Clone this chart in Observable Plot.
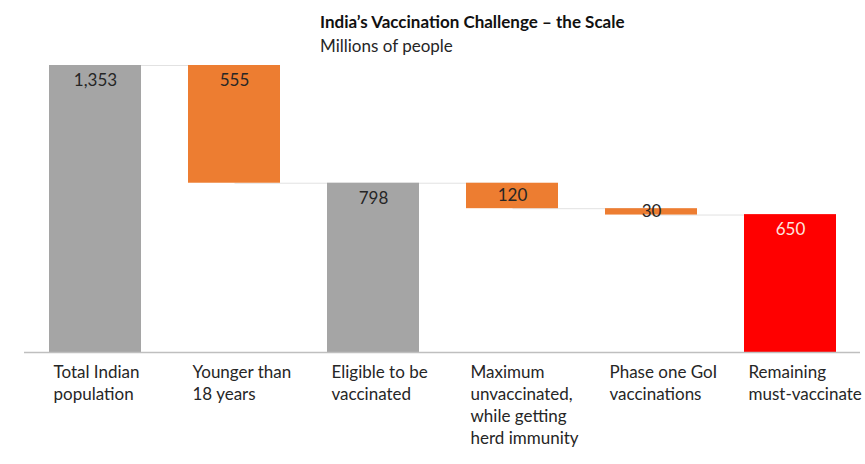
<!DOCTYPE html>
<html><head><meta charset="utf-8">
<script src="https://cdn.jsdelivr.net/npm/d3@7"></script>
<script src="https://cdn.jsdelivr.net/npm/@observablehq/plot@0.6"></script>
<style>
body{margin:0;background:#fff;font-family:Lato,"Open Sans",sans-serif;}
#wrap{position:relative;width:865px;height:464px;overflow:hidden}
#head{position:absolute;left:320px;top:10px;color:#111;}
#t{font-weight:bold;font-size:17px;line-height:24px}
#s{font-size:17px;line-height:24px;color:#262626}
#chart{position:absolute;left:0;top:58px}
</style></head><body>
<div id="wrap"><div id="head"><div id="t">India’s Vaccination Challenge – the Scale</div><div id="s">Millions of people</div></div><div id="chart"></div></div>
<script>
const categories = ["total", "young", "eligible", "herd", "phase1", "remaining"];
const tickLabels = ["Total Indian\npopulation", "Younger than\n18 years", "Eligible to be\nvaccinated", "Maximum\nunvaccinated,\nwhile getting\nherd immunity", "Phase one GoI\nvaccinations", "Remaining\nmust-vaccinate"];
const values = [1353, 555, 798, 120, 30, 650];
const valueLabels = ["1,353", "555", "798", "120", "30", "650"];
const kinds = ["total", "step", "total", "step", "step", "result"];

const colors = {total: "#a5a5a5", step: "#ed7d31", result: "#ff0000"};

let level = 0;
const rows = categories.map((c, i) => {
  let lo, hi;
  if (kinds[i] === "step") { hi = level; lo = level - values[i]; level = lo; }
  else { lo = 0; hi = values[i]; level = hi; }
  return {c, lo, hi, kind: kinds[i], label: valueLabels[i], tick: tickLabels[i]};
});
const connectors = rows.slice(0, -1).map((r, i) => ({a: r.c, b: rows[i + 1].c, y: r.kind === "step" ? r.lo : r.hi}));

const H = 406, mTop = 7, mBottom = 112;
const yMax = values[0];
const pxPerUnit = (H - mTop - mBottom) / yMax;

const chart = Plot.plot({
  width: 865, height: H,
  marginTop: mTop, marginBottom: mBottom, marginLeft: 24, marginRight: 5,
  style: {fontFamily: "Lato, 'Open Sans', sans-serif", background: "#fff"},
  x: {domain: categories, paddingInner: 0.34, paddingOuter: 0.17, axis: null},
  y: {domain: [0, yMax], axis: null},
  marks: [
    Plot.link(connectors, {x1: "a", x2: "b", y1: "y", y2: "y", stroke: "#e2e2e2", strokeWidth: 1}),
    Plot.barY(rows, {x: "c", y1: "lo", y2: "hi", fill: d => colors[d.kind]}),
    Plot.ruleY([0], {stroke: "#bfbfbf", strokeWidth: 1.5}),
    Plot.text(rows, {x: "c", y: d => Math.max(d.hi - 15 / pxPerUnit, (d.lo + d.hi) / 2), text: "label",
      fill: d => d.kind === "result" ? "#fde3de" : "#262626", fontSize: 17}),
    Plot.text(rows, {x: "c", y: 0, text: "tick", textAnchor: "start", lineAnchor: "top", dx: -42, dy: 10,
      fontSize: 17, lineHeight: 1.3, fill: "#262626"})
  ]
});
document.getElementById("chart").appendChild(chart);
</script>
</body></html>
